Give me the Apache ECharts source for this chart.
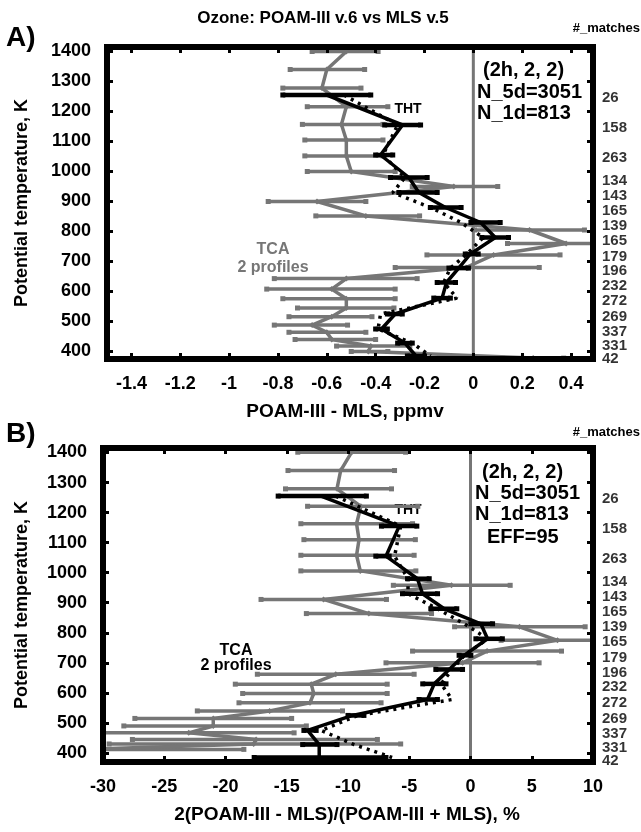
<!DOCTYPE html>
<html>
<head>
<meta charset="utf-8">
<script src="https://cdn.jsdelivr.net/npm/echarts@6/dist/echarts.min.js"></script>
<style>
html,body{margin:0;padding:0;background:#fff;}
#chart{width:641px;height:832px;}
</style>
</head>
<body>
<div id="chart"></div>
<script>
// ---------- DATA ----------
const thetaLevels = [1255,1155,1055,980,930,880,830,780,725,678,630,578,525,475,428,385];
const matchCounts = [26,158,263,134,143,165,139,165,179,196,232,272,269,337,331,42];
const yTickValues = [400,500,600,700,800,900,1000,1100,1200,1300,1400];
const xTicksA = [-1.4,-1.2,-1,-0.8,-0.6,-0.4,-0.2,0,0.2,0.4];
const xTicksB = [-30,-25,-20,-15,-10,-5,0,5,10];

// Panel A (ppmv) - THT matches (black) and smoothed (dotted)
const thtMeanA = [-0.60,-0.29,-0.38,-0.264,-0.223,-0.114,0.03,0.09,-0.012,-0.06,-0.11,-0.128,-0.32,-0.376,-0.28,-0.235];
const thtLoA   = [-0.78,-0.363,-0.40,-0.339,-0.305,-0.176,-0.01,0.035,-0.033,-0.10,-0.148,-0.162,-0.352,-0.40,-0.31,-0.27];
const thtHiA   = [-0.42,-0.216,-0.33,-0.189,-0.148,-0.05,0.11,0.144,0.02,-0.02,-0.073,-0.094,-0.291,-0.352,-0.25,-0.20];
const dotA     = [-0.53,-0.31,-0.37,-0.28,-0.33,-0.175,-0.05,0.04,-0.026,-0.094,-0.121,-0.067,-0.38,-0.39,-0.25,-0.175];
// Panel A - TCA (grey)
const tcaThetaA = [1400,1340,1278,1216,1157,1105,1052,1000,950,900,852,805,760,722,680,643,608,576,545,516,488,464,440,418,400,378];
const tcaMeanA  = [-0.52,-0.60,-0.62,-0.52,-0.54,-0.52,-0.52,-0.50,-0.08,-0.64,-0.44,0.23,0.38,0.083,-0.03,-0.52,-0.58,-0.52,-0.52,-0.58,-0.66,-0.60,-0.58,-0.42,-0.43,0.245];
const tcaLoA    = [-0.66,-0.75,-0.78,-0.68,-0.70,-0.69,-0.69,-0.68,-0.25,-0.84,-0.645,0.005,0.14,-0.19,-0.32,-0.815,-0.846,-0.78,-0.72,-0.755,-0.815,-0.755,-0.73,-0.56,-0.50,0.12];
const tcaHiA    = [-0.39,-0.445,-0.46,-0.35,-0.37,-0.37,-0.37,-0.32,0.10,-0.44,-0.22,0.455,0.62,0.355,0.27,-0.23,-0.32,-0.32,-0.325,-0.415,-0.515,-0.44,-0.40,-0.26,-0.35,0.37];

// Panel B (%) - THT and smoothed
const thtMeanB = [-12.2,-5.82,-6.9,-4.33,-3.92,-2.15,0.84,1.39,-0.52,-1.74,-2.96,-3.51,-9.63,-13.3,-12.35,-12.35];
const thtLoB   = [-15.7,-7.27,-7.73,-5.14,-5.55,-3.24,0.03,0.44,-0.93,-2.83,-3.9,-4.2,-10.0,-13.6,-13.7,-17.66];
const thtHiB   = [-8.5,-4.38,-6.64,-3.37,-2.69,-1.12,1.8,2.6,0.03,-0.65,-2.0,-2.7,-8.7,-12.6,-10.9,-6.9];
const dotB     = [-11.0,-5.7,-6.2,-5.1,-5.1,-2.7,-0.5,1.39,-0.5,-1.5,-2.4,-1.5,-9.2,-12.2,-9.5,-6.4];
// Panel B - TCA (grey)
const tcaThetaB = [1401,1340,1279,1221,1163,1110,1058,1006,958,911,864,820,775,739,700,662,629,598,567,540,515,490,467,445,430,412];
const tcaMeanB  = [-9.7,-10.6,-10.9,-8.95,-9.3,-9.1,-9.3,-9.0,-1.55,-12.0,-8.3,4.0,7.1,1.35,-0.65,-11.0,-13.0,-12.8,-13.1,-16.4,-21.0,-21.0,-23.0,-17.5,-17.7,-32];
const tcaLoB    = [-14.1,-14.9,-15.1,-13.3,-13.85,-13.6,-13.85,-13.85,-6.3,-17.1,-13.4,-1.3,2.5,-4.73,-6.9,-17.4,-19.2,-18.6,-18.9,-22.3,-27.4,-28.3,-31,-27.6,-29.5,-42];
const tcaHiB    = [-5.3,-6.2,-6.45,-4.3,-4.73,-4.5,-4.6,-4.46,3.24,-6.86,-3.18,9.36,11.7,7.43,5.6,-4.6,-6.8,-6.8,-7.3,-10.45,-14.6,-13.4,-14.4,-7.6,-5.7,-18.5];

// ---------- HELPERS ----------
const GREY = '#767676';
function zip(xs, ys){ return xs.map((x,i)=>[x, ys[i]]); }
function errData(lo, hi, th){ return th.map((t,i)=>[lo[i], hi[i], t]); }

function errSeries(idx, data, color, lw, cap){
  return {
    type:'custom', xAxisIndex:idx*2, yAxisIndex:idx*2, clip:true, z: color===GREY?2:4,
    data: data,
    renderItem: function(params, api){
      const a = api.coord([api.value(0), api.value(2)]);
      const b = api.coord([api.value(1), api.value(2)]);
      return {type:'group', children:[
        {type:'line', shape:{x1:a[0],y1:a[1],x2:b[0],y2:b[1]}, style:{stroke:color, lineWidth:lw}},
        {type:'rect', shape:{x:a[0]-cap/2,y:a[1]-cap/2,width:cap,height:cap}, style:{fill:color}},
        {type:'rect', shape:{x:b[0]-cap/2,y:b[1]-cap/2,width:cap,height:cap}, style:{fill:color}}
      ]};
    }
  };
}

const fontFam = 'Liberation Sans, Arial, Helvetica, sans-serif';

function xAxes(gi, min, max, ticks){
  const fmt = v => String(+(+v).toFixed(2));
  return [
    {gridIndex:gi, type:'value', min:min, max:max, position:'bottom', z:10,
     splitLine:{show:false},
     axisLine:{show:true, onZero:false, lineStyle:{color:'#000', width:6, cap:'square'}},
     axisTick:{show:true, inside:true, length:6, lineStyle:{color:'#000', width:3}, customValues:ticks},
     axisLabel:{show:true, customValues:ticks, formatter:fmt, color:'#000', fontWeight:'bold', fontSize:18, fontFamily:fontFam, margin:16}},
    {gridIndex:gi, type:'value', min:min, max:max, position:'top', z:10,
     splitLine:{show:false},
     axisLine:{show:true, onZero:false, lineStyle:{color:'#000', width:6, cap:'square'}},
     axisTick:{show:true, inside:true, length:6, lineStyle:{color:'#000', width:3}, customValues:ticks},
     axisLabel:{show:false}}
  ];
}
function yAxes(gi, min, max){
  return [
    {gridIndex:gi, type:'value', min:min, max:max, position:'left', z:10,
     splitLine:{show:false},
     axisLine:{show:true, onZero:false, lineStyle:{color:'#000', width:6, cap:'square'}},
     axisTick:{show:true, inside:true, length:6, lineStyle:{color:'#000', width:3}, customValues:yTickValues},
     axisLabel:{show:true, customValues:yTickValues, formatter:v=>String(v), color:'#000', fontWeight:'bold', fontSize:18, fontFamily:fontFam, margin:16}},
    {gridIndex:gi, type:'value', min:min, max:max, position:'right', z:10,
     splitLine:{show:false},
     axisLine:{show:true, onZero:false, lineStyle:{color:'#000', width:6, cap:'square'}},
     axisTick:{show:true, inside:true, length:6, lineStyle:{color:'#000', width:3}, customValues:yTickValues},
     axisLabel:{show:false}}
  ];
}

function panelSeries(idx, p){
  const xi = idx*2, yi = idx*2;
  return [
    // zero line
    {type:'line', xAxisIndex:xi, yAxisIndex:yi, data:[[0,p.ymin],[0,p.ymax]], symbol:'none', z:1,
     lineStyle:{color:GREY, width:3}, silent:true},
    // TCA grey error bars + line
    errSeries(idx, errData(p.tcaLo, p.tcaHi, p.tcaTheta), GREY, 3.5, 5),
    {type:'line', xAxisIndex:xi, yAxisIndex:yi, data:zip(p.tcaMean, p.tcaTheta), clip:true, z:3,
     symbol:'diamond', symbolSize:6, itemStyle:{color:GREY}, lineStyle:{color:GREY, width:3.5}},
    // THT black error bars + line
    errSeries(idx, errData(p.thtLo, p.thtHi, thetaLevels), '#000', 4.5, 5),
    {type:'line', xAxisIndex:xi, yAxisIndex:yi, data:zip(p.thtMean, thetaLevels), clip:true, z:5,
     symbol:'none', lineStyle:{color:'#000', width:3.5}},
    // smoothed dotted
    {type:'line', xAxisIndex:xi, yAxisIndex:yi, data:zip(p.dot, thetaLevels), clip:true, z:5,
     symbol:'none', lineStyle:{color:'#000', width:3.5, type:[3,5]}},
    // match counts on the right
    {type:'scatter', xAxisIndex:xi, yAxisIndex:yi, data:thetaLevels.map((t,i)=>[p.xmax, t, matchCounts[i]]),
     symbolSize:0, clip:false, z:6, silent:true,
     label:{show:true, position:'right', distance:9, offset:[0,3], formatter:(d)=>String(d.value[2]),
            color:'#000', fontWeight:'bold', fontSize:15, fontFamily:fontFam}}
  ];
}

const pA = {ymin:375, ymax:1415, xmax:0.49,
  tcaTheta:tcaThetaA, tcaMean:tcaMeanA, tcaLo:tcaLoA, tcaHi:tcaHiA,
  thtMean:thtMeanA, thtLo:thtLoA, thtHi:thtHiA, dot:dotA};
const pB = {ymin:370, ymax:1415, xmax:10,
  tcaTheta:tcaThetaB, tcaMean:tcaMeanB, tcaLo:tcaLoB, tcaHi:tcaHiB,
  thtMean:thtMeanB, thtLo:thtLoB, thtHi:thtHiB, dot:dotB};

function txt(x, y, s, size, opts){
  return Object.assign({type:'text', x:x, y:y, z:20,
    style:Object.assign({text:s, fill:'#000', font:'bold '+size+'px '+fontFam, textAlign:'left', textVerticalAlign:'middle'}, (opts&&opts.style)||{})},
    opts&&opts.rot!==undefined?{rotation:opts.rot}:{});
}

const chart = echarts.init(document.getElementById('chart'), null, {renderer:'canvas'});
chart.setOption({
  animation:false,
  backgroundColor:'#fff',
  grid:[
    {left:107, top:47, width:486, height:312, show:false},
    {left:103, top:448, width:490, height:314, show:false}
  ],
  xAxis: [].concat(xAxes(0, -1.5, 0.49, xTicksA), xAxes(1, -30, 10, xTicksB)),
  yAxis: [].concat(yAxes(0, pA.ymin, pA.ymax), yAxes(1, pB.ymin, pB.ymax)),
  series: [].concat(panelSeries(0, pA), panelSeries(1, pB)),
  graphic: [
    txt(323, 18, 'Ozone: POAM-III v.6 vs MLS v.5', 17, {style:{textAlign:'center'}}),
    txt(6, 38, 'A)', 28),
    txt(6, 434, 'B)', 28),
    txt(640, 28, '#_matches', 13, {style:{textAlign:'right'}}),
    txt(640, 432, '#_matches', 13, {style:{textAlign:'right'}}),
    txt(483, 70, '(2h, 2, 2)', 20),
    txt(477, 92, 'N_5d=3051', 20),
    txt(477, 113, 'N_1d=813', 20),
    txt(482, 472, '(2h, 2, 2)', 20),
    txt(475, 493, 'N_5d=3051', 20),
    txt(475, 514, 'N_1d=813', 20),
    txt(487, 537, 'EFF=95', 20),
    txt(408, 109, 'THT', 14, {style:{textAlign:'center'}}),
    Object.assign(txt(408, 510, 'THT', 14, {style:{textAlign:'center'}}), {z:0}),
    txt(273, 250, 'TCA', 16, {style:{textAlign:'center', fill:GREY}}),
    txt(273, 268, '2 profiles', 16, {style:{textAlign:'center', fill:GREY}}),
    txt(236, 651, 'TCA', 16, {style:{textAlign:'center'}}),
    txt(236, 666, '2 profiles', 16, {style:{textAlign:'center'}}),
    txt(22, 203, 'Potential temperature, K', 18, {rot:Math.PI/2, style:{textAlign:'center'}}),
    txt(22, 605, 'Potential temperature, K', 18, {rot:Math.PI/2, style:{textAlign:'center'}}),
    txt(345, 412, 'POAM-III - MLS, ppmv', 19, {style:{textAlign:'center'}}),
    txt(347, 815, '2(POAM-III - MLS)/(POAM-III + MLS), %', 19, {style:{textAlign:'center'}})
  ]
});
</script>
</body>
</html>
